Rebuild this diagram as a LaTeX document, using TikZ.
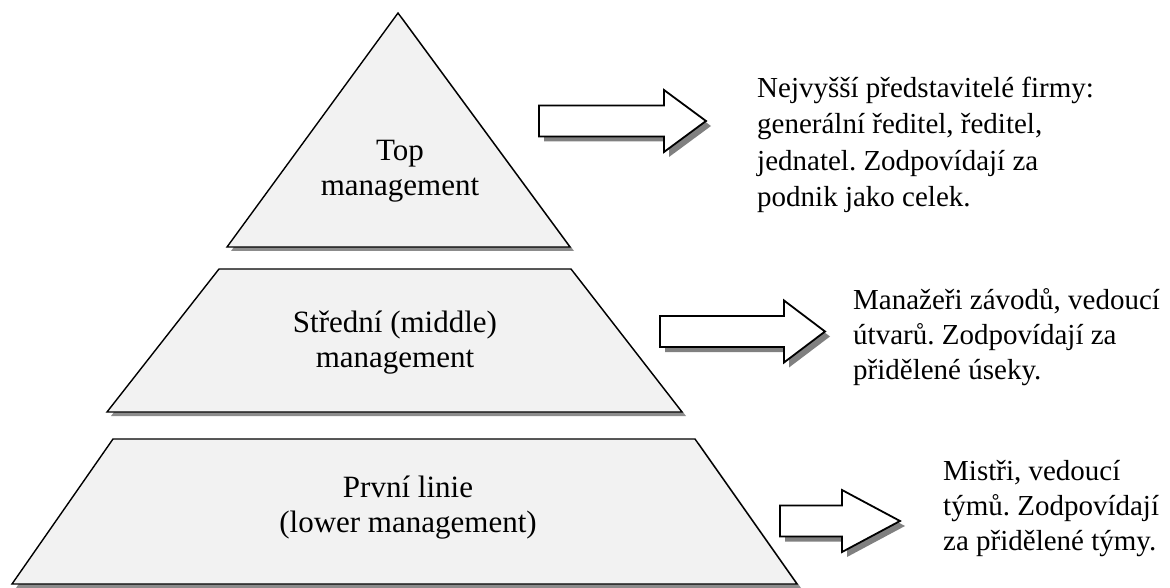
\documentclass[tikz,border=0pt]{standalone}
\usepackage{fontspec}
\setmainfont{Liberation Serif}
\frenchspacing
\begin{document}
\begin{tikzpicture}[x=1pt,y=-1pt,
  layer/.style={draw=black,line width=1.4pt,fill=gray!10,line join=miter},
  layershadow/.style={fill=black!45,draw=none},
  blockarrow/.style={draw=black,line width=1.8pt,fill=white,line join=miter},
  arrowshadow/.style={fill=black!50,draw=none},
  label/.style={font=\fontsize{31}{35}\selectfont,align=center,inner sep=0pt,anchor=base},
  note/.style={align=left,anchor=base west,inner sep=0pt}]
\useasboundingbox (0,0) rectangle (1170,588);

% pyramid levels: shadow first, then the face
\fill[layershadow,shift={(4,4)}] (398,13) -- (570,247) -- (227,247) -- cycle;
\path[layer] (398,13) -- (570,247) -- (227,247) -- cycle;
\fill[layershadow,shift={(4,4)}] (219,269) -- (571,269) -- (682,412) -- (107,412) -- cycle;
\path[layer] (219,269) -- (571,269) -- (682,412) -- (107,412) -- cycle;
\fill[layershadow,shift={(4,4)}] (113,439) -- (695,439) -- (797,584) -- (12,584) -- cycle;
\path[layer] (113,439) -- (695,439) -- (797,584) -- (12,584) -- cycle;

% labels are placed by the baseline of their last line
\node[label] (top) at (400,196) {Top\\management};
\node[label] (mid) at (395,367) {Střední (middle)\\management};
\node[label] (low) at (408,532) {První linie\\(lower management)};

% block arrows: left x, head x, tip x, centre y
\foreach \lx/\hx/\tx/\cy in {539/664/706/121, 660/784/825/331.5, 780/842/900/521}{
  \fill[arrowshadow,shift={(5,5)}]
    (\lx,\cy-15.5) -- (\hx,\cy-15.5) -- (\hx,\cy-31) -- (\tx,\cy)
    -- (\hx,\cy+31) -- (\hx,\cy+15.5) -- (\lx,\cy+15.5) -- cycle;
  \path[blockarrow]
    (\lx,\cy-15.5) -- (\hx,\cy-15.5) -- (\hx,\cy-31) -- (\tx,\cy)
    -- (\hx,\cy+31) -- (\hx,\cy+15.5) -- (\lx,\cy+15.5) -- cycle;
}

\node[note,font=\fontsize{29}{36.5}\selectfont] (topnote) at (757,207) {Nejvyšší představitelé firmy:\\generální ředitel, ředitel,\\jednatel. Zodpovídají za\\podnik jako celek.};
\node[note,font=\fontsize{29}{35}\selectfont] (midnote) at (853,379) {Manažeři závodů, vedoucí\\útvarů. Zodpovídají za\\přidělené úseky.};
\node[note,font=\fontsize{29}{35}\selectfont] (lownote) at (943,550) {Mistři, vedoucí\\týmů. Zodpovídají\\za přidělené týmy.};
\end{tikzpicture}
\end{document}
